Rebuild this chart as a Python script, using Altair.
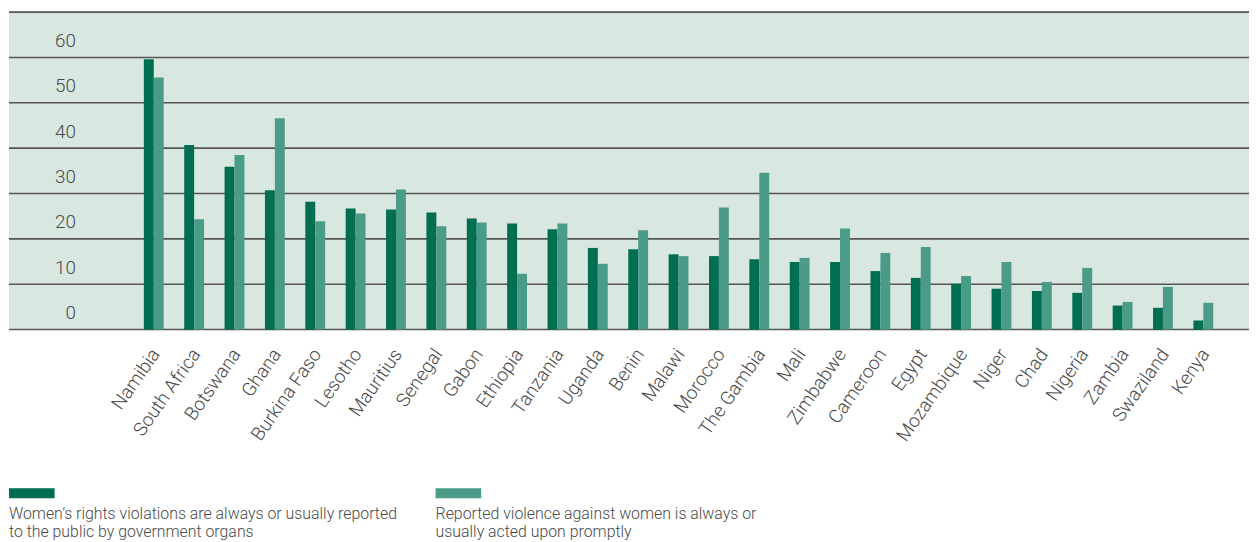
import altair as alt
import pandas as pd

countries = ["Namibia", "South Africa", "Botswana", "Ghana", "Burkina Faso", "Lesotho",
             "Mauritius", "Senegal", "Gabon", "Ethiopia", "Tanzania", "Uganda", "Benin",
             "Malawi", "Morocco", "The Gambia", "Mali", "Zimbabwe", "Cameroon", "Egypt",
             "Mozambique", "Niger", "Chad", "Nigeria", "Zambia", "Swaziland", "Kenya"]
reported = [59.6, 40.7, 35.9, 30.7, 28.2, 26.7, 26.5, 25.8, 24.5, 23.4, 22.1, 18.0, 17.7,
            16.6, 16.2, 15.5, 14.9, 14.9, 12.9, 11.4, 10.1, 9.0, 8.5, 8.1, 5.3, 4.8, 2.0]
acted = [55.6, 24.3, 38.5, 46.6, 23.9, 25.6, 30.9, 22.8, 23.6, 12.3, 23.4, 14.5, 21.9,
         16.2, 26.9, 34.6, 15.8, 22.3, 16.9, 18.2, 11.8, 14.9, 10.5, 13.6, 6.1, 9.4, 5.9]
y_ticks = [0, 10, 20, 30, 40, 50, 60, 70]
series_names = [
    "Women\u2019s rights violations are always or usually reported\nto the public by government organs",
    "Reported violence against women is always or\nusually acted upon promptly",
]
colors = ["#006e50", "#4a9c89"]

df = pd.DataFrame({"country": countries, "reported": reported, "acted": acted})
grid_df = pd.DataFrame({"v": y_ticks})

FONT = "Roboto"
TXT = "#4a4a4a"

x_enc = alt.X("country:N", sort=countries, title=None,
              scale=alt.Scale(paddingInner=0, paddingOuter=0, range=[125.6, 1224.3]),
              axis=alt.Axis(labelAngle=-55, labelAlign="right", labelBaseline="middle",
                            labelPadding=21, labelFontSize=19, labelFont=FONT,
                            labelFontWeight=300, labelColor=TXT, labelOffset=2,
                            domain=False, ticks=False, grid=False, labelOverlap=False,
                            labelLimit=300))
y_scale = alt.Scale(domain=[0, 70], nice=False)
y_axis = alt.Axis(values=y_ticks, grid=False,
                  domain=False, ticks=False, tickSize=0, labelAlign="right",
                  labelBaseline="alphabetic", labelPadding=-67, labelOffset=-11,
                  labelFontSize=19, labelFont=FONT, labelFontWeight=300, labelColor=TXT,
                  labelExpr="datum.value == 70 ? '' : datum.label", title=None)

grid = alt.Chart(grid_df).mark_rule(color="#555555", strokeWidth=1.6).encode(
    y=alt.Y("v:Q", scale=y_scale, axis=y_axis))

base = alt.Chart(df)
bars1 = base.mark_bar(width=10, xOffset=-5, color=colors[0]).encode(
    x=x_enc, y=alt.Y("reported:Q", scale=y_scale, axis=y_axis))
bars2 = base.mark_bar(width=10, xOffset=5, color=colors[1]).encode(
    x=x_enc, y=alt.Y("acted:Q", scale=y_scale, axis=y_axis))

one = pd.DataFrame({"k": [0]})
leg = []
for i, (name, col) in enumerate(zip(series_names, colors)):
    x0 = 0 if i == 0 else 430
    leg.append(alt.Chart(one).mark_rect(color=col, clip=False).encode(
        x=alt.value(x0), x2=alt.value(x0 + 46), y=alt.value(480), y2=alt.value(490)))
    leg.append(alt.Chart(one).mark_text(align="left", baseline="middle", lineBreak="\n",
                                        lineHeight=18, fontSize=16, font=FONT,
                                        fontWeight=300, color=TXT, clip=False).encode(
        x=alt.value(x0), y=alt.value(506), text=alt.value(name)))

chart = alt.layer(grid, bars1, bars2, *leg).properties(
    width=1250, height=320, background="white",
    padding={"top": 1, "left": 0, "right": 0, "bottom": 0},
).configure_view(fill="#d9e7e1", stroke=None)

chart.save("out.html", embed_options={"renderer": "svg", "actions": False})
